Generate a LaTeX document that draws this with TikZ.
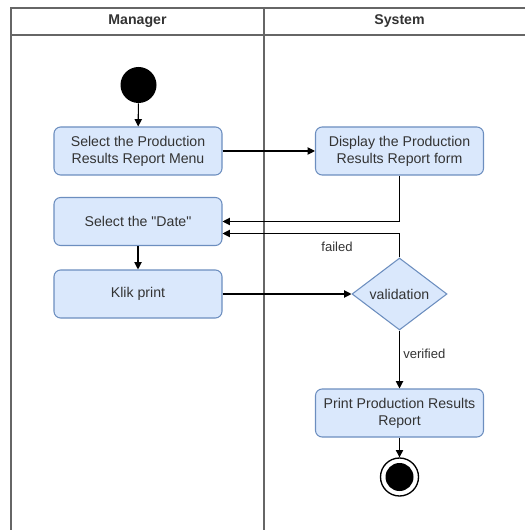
\documentclass[tikz,border=0pt]{standalone}
\usepackage{fontspec}
\setmainfont{Liberation Sans}[Ligatures=TeXOff]
\usetikzlibrary{shapes.geometric,arrows.meta}
\definecolor{actfill}{RGB}{218,232,252}
\definecolor{actline}{RGB}{108,142,191}

\begin{document}
\begin{tikzpicture}[x=0.75pt,y=-0.75pt]
\tikzstyle{every node}+=[font=\fontsize{10.6}{12.8}\selectfont, text=black!80]
\tikzstyle{act}=[draw=actline, fill=actfill, rounded corners=5pt, minimum width=126pt, minimum height=36pt, align=center, inner sep=0pt, line width=0.8pt]
\tikzstyle{decide}=[diamond, draw=actline, fill=actfill, minimum width=71.25pt, minimum height=54pt, inner sep=0pt, line width=0.8pt]
\tikzstyle{flow}=[black, line width=0.8pt, -{Triangle[length=5.5pt,width=5.5pt]}]
\tikzstyle{lane}=[black!60, line width=1.3pt]
\tikzstyle{guard}=[font=\fontsize{9.8}{11}\selectfont]
\useasboundingbox (0,0) rectangle (525,530);
\draw [lane] (11,530) -- (11,8) -- (525,8);
\draw [lane] (11,35) -- (525,35);
\draw [lane] (264,8) -- (264,530);
\node [font=\fontsize{10.6}{12.8}\bfseries] (manager) at (137.5,21.5) {Manager};
\node [font=\fontsize{10.6}{12.8}\bfseries] (system) at (399.5,21.5) {System};
\node [circle, fill=black, minimum size=27pt, inner sep=0pt] (start) at (138.5,85) {};
\node [act] (menu) at (138,151) {Select the Production\\Results Report Menu};
\node [act] (date) at (138,221.5) {Select the "Date"};
\node [act] (klik) at (138,294) {Klik print};
\node [act] (display) at (399.5,151) {Display the Production\\Results Report form};
\node [decide] (valid) at (399.5,294) {validation};
\node [act] (report) at (399.5,413) {Print Production Results\\Report};
\node [circle, draw=black, fill=white, line width=1pt, minimum size=28.5pt, inner sep=0pt] (finish) at (399.5,477) {};
\node [circle, fill=black, minimum size=21pt, inner sep=0pt] (finishdot) at (finish) {};
\draw [flow] (start) -- (menu);
\draw [flow] (menu) -- (display);
\draw [flow] (display.south) |- (date.east);
\draw [flow] (valid.north) |- ([yshift=-9pt]date.east);
\draw [flow] (date) -- (klik);
\draw [flow] (klik) -- (valid);
\draw [flow] (valid) -- (report);
\draw [flow] (report) -- (finish);
\node [guard] (failed) at (337,247) {failed};
\node [guard, anchor=west, inner sep=0pt] (verified) at (403,354) {verified};
\end{tikzpicture}
\end{document}
